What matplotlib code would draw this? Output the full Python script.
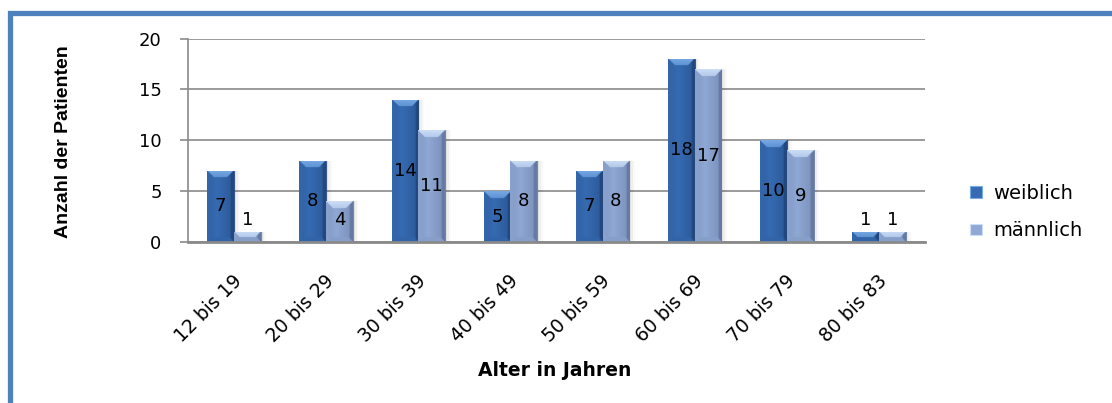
import numpy as np
import matplotlib
matplotlib.use("Agg")
import matplotlib.pyplot as plt
from matplotlib.patches import Patch
from matplotlib.lines import Line2D
from matplotlib.transforms import ScaledTranslation

# ---- data -------------------------------------------------------------
age_groups = ["12 bis 19", "20 bis 29", "30 bis 39", "40 bis 49",
              "50 bis 59", "60 bis 69", "70 bis 79", "80 bis 83"]
weiblich = [7, 8, 14, 5, 7, 18, 10, 1]
maennlich = [1, 4, 11, 8, 8, 17, 9, 1]
series_names = ["weiblich", "männlich"]
y_ticks = [0, 5, 10, 15, 20]

# ---- styling ----------------------------------------------------------
BASE = {
    "weiblich": dict(body=(0.21, 0.42, 0.70), light=(0.47, 0.67, 0.90),
                     dark=(0.14, 0.28, 0.50)),
    "männlich": dict(body=(0.56, 0.66, 0.83), light=(0.80, 0.87, 0.97),
                     dark=(0.40, 0.48, 0.64)),
}
GRID = "#8a8a8a"
FRAME = "#4f81bd"
TXT_FONT = "DejaVu Sans"

fig = plt.figure(figsize=(11.12, 4.03), dpi=100)
W, H = 1112, 403
ax = fig.add_axes([188 / W, 1 - 242 / H, (925 - 188) / W, (242 - 38.5) / H])

n = len(age_groups)
x = np.arange(n)
bw = 0.29
ax.set_xlim(-0.5, n - 0.5)
ax.set_ylim(0, 20)

# pixel scale of one data unit (used for the fixed-size bevels)
px_per_x = (925 - 188) / n
px_per_y = (242 - 38.5) / 20.0


def shade_bar(patch, h, x0, colors):
    """Paint a bevelled gradient inside one bar, clipped to the bar patch."""
    wpx = bw * px_per_x
    hpx = max(h * px_per_y, 1.0)
    cols = int(round(wpx * 3))
    rows = max(int(round(hpx * 3)), 3)
    u = (np.arange(cols) + 0.5) / cols
    dl = u * wpx
    dr = (1 - u) * wpx
    d = (np.arange(rows) + 0.5) / rows * hpx          # depth from top
    e = hpx - d                                     # distance from bottom
    DL, D = np.meshgrid(dl, d)
    DR, E = np.meshgrid(dr, e)
    body = np.array(colors["body"])
    light = np.array(colors["light"])
    dark = np.array(colors["dark"])
    # horizontal body gradient: brighter left of centre, darker right edge
    U = DL / wpx
    t = np.clip(1 - np.abs(U - 0.38) / 0.62, 0, 1)
    img = dark[None, None, :] * (1 - t[..., None]) * 0.55 + \
        body[None, None, :] * (0.45 + 0.55 * t[..., None])
    img = np.clip(img, 0, 1)
    b = min(7.0, hpx / 2.2 + 1.0)
    top = (D < b) & (D <= DL) & (D <= DR)
    left = (DL < 3.5) & (DL < D) & (DL < E) & ~top
    right = (DR < 3.5) & (DR < D) & (DR < E) & ~top
    bottom = (E < 5.0) & (E < DL) & (E < DR) & ~top
    fade = np.clip(1 - D / (b + 1e-9), 0.25, 1)[..., None]
    img = np.where(top[..., None], light * (0.6 + 0.4 * fade) + body * (0.4 - 0.4 * fade), img)
    img = np.where(left[..., None], body * 0.85 + dark * 0.15, img)
    img = np.where(right[..., None], dark, img)
    img = np.where(bottom[..., None], body * 0.8 + dark * 0.2, img)
    im = ax.imshow(img, extent=(x0, x0 + bw, 0, h), origin="upper",
                   aspect="auto", interpolation="bilinear", zorder=3)
    im.set_clip_path(patch)


series = {"weiblich": weiblich, "männlich": maennlich}
for k, name in enumerate(series_names):
    vals = series[name]
    offs = x - bw + k * bw
    # soft drop shadow to the right of each bar
    for dx, a in ((0.02, 0.06), (0.04, 0.04), (0.06, 0.025)):
        ax.bar(offs + bw / 2 + dx, vals, bw, align="center", bottom=0,
               color="#000000", alpha=a, zorder=2, linewidth=0)
    bars = ax.bar(offs + bw / 2, vals, bw, align="center",
                  color=BASE[name]["body"], edgecolor=BASE[name]["dark"],
                  linewidth=0.6, zorder=3)
    for rect, v in zip(bars, vals):
        shade_bar(rect, v, rect.get_x(), BASE[name])
        ax.text(rect.get_x() + bw / 2, max(v / 2, 2.15), str(v),
                ha="center", va="center", fontsize=13, family=TXT_FONT,
                color="black", zorder=5)

# ---- axes -------------------------------------------------------------
ax.set_yticks(y_ticks)
ax.set_yticklabels([str(t) for t in y_ticks], fontsize=13, family=TXT_FONT)
ax.yaxis.grid(True, color=GRID, linewidth=1.2, zorder=0)
ax.set_axisbelow(True)
ax.tick_params(axis="y", length=6, width=1.2, color=GRID, pad=13)
for s in ("top", "right"):
    ax.spines[s].set_visible(False)
ax.spines["left"].set_color(GRID)
ax.spines["left"].set_linewidth(1.2)
ax.spines["bottom"].set_color(GRID)
ax.spines["bottom"].set_linewidth(2.0)
ax.spines["bottom"].set_zorder(6)

ax.set_xticks(x)
ax.set_xticklabels(age_groups, rotation=45, ha="right", va="center",
                   rotation_mode="anchor", fontsize=13.5, family=TXT_FONT)
ax.tick_params(axis="x", length=0, pad=26)
shift = ScaledTranslation(5 / 100, 0, fig.dpi_scale_trans)
for lab in ax.get_xticklabels():
    lab.set_transform(lab.get_transform() + shift)

fig.text(63 / W, 1 - 142 / H, "Anzahl der Patienten", rotation=90,
         ha="center", va="center", fontsize=14, fontweight="bold",
         family="Liberation Sans")
fig.text(555 / W, 1 - 371 / H, "Alter in Jahren", ha="center", va="center",
         fontsize=13.5, fontweight="bold", family=TXT_FONT)

# ---- legend -----------------------------------------------------------
handles = [Patch(facecolor=BASE[nm]["body"], edgecolor=BASE[nm]["light"],
                 linewidth=0.8) for nm in series_names]
fig.legend(handles, series_names, loc="center left",
           bbox_to_anchor=(962 / W, 1 - 212 / H), frameon=False,
           prop=dict(family=TXT_FONT, size=14), handlelength=0.62,
           handleheight=0.55, handletextpad=0.6, labelspacing=0.95,
           borderaxespad=0)

# ---- blue frame around the chart area ----------------------------------
fig.add_artist(Line2D([10 / W, 10 / W, 1.0], [0.0, 1 - 13 / H, 1 - 13 / H],
                      transform=fig.transFigure, color=FRAME, linewidth=3.8,
                      solid_joinstyle="miter"))

fig.savefig("out.png", dpi=100)
